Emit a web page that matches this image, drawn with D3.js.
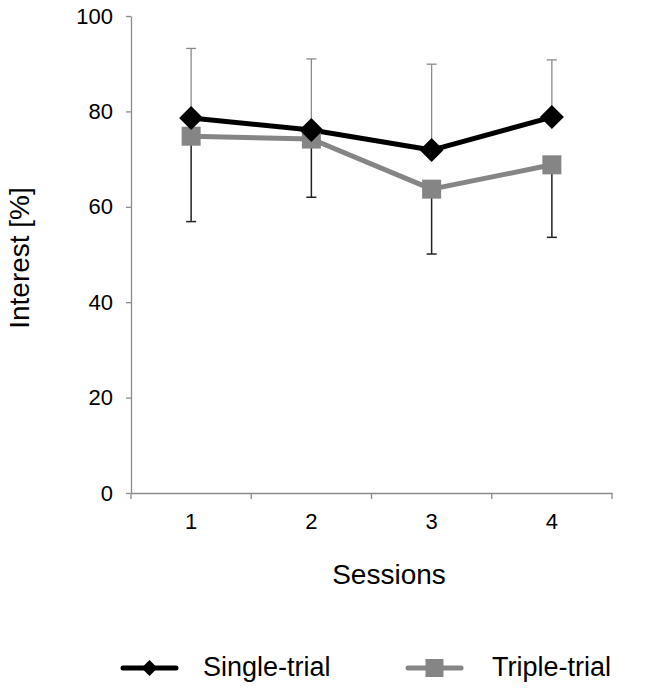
<!DOCTYPE html>
<html><head><meta charset="utf-8">
<script src="https://cdn.jsdelivr.net/npm/d3@7"></script>
<style>body{margin:0;background:#fff}svg{display:block;font-family:"Liberation Sans",Arial,sans-serif}</style>
</head><body>
<script>
const sessions = ["1","2","3","4"];
const singleTrial = [78.6, 76.1, 71.9, 78.8];
const singleUpper = [93.2, 91.0, 89.9, 90.8];
const tripleTrial = [74.8, 74.2, 63.7, 68.8];
const tripleLower = [56.9, 62.0, 50.1, 53.6];
const yTicks = [0, 20, 40, 60, 80, 100];

const W = 653, H = 690;
const FONT = "Liberation Sans, Arial, sans-serif";
const svg = d3.select("body").append("svg").attr("width", W).attr("height", H);
const x = d3.scaleBand().domain(sessions).range([131, 612]);
const y = d3.scaleLinear().domain([0, 100]).range([493, 16]);
const cx = d => x(d) + x.bandwidth() / 2;

// Y axis
const yAxis = svg.append("g").attr("transform", "translate(131,0)")
  .call(d3.axisLeft(y).tickValues(yTicks).tickSize(5).tickSizeOuter(0).tickPadding(13));
yAxis.select(".domain").attr("stroke", "#8c8c8c").attr("stroke-width", 1.3);
yAxis.selectAll(".tick line").attr("stroke", "#8c8c8c").attr("stroke-width", 1.3);
yAxis.selectAll(".tick text").attr("font-size", 22).attr("fill", "#000").attr("font-family", FONT);

// X axis
const xAxis = svg.append("g").attr("transform", "translate(0,493)")
  .call(d3.axisBottom(x).tickSize(0).tickPadding(20));
xAxis.select(".domain").attr("stroke", "#8c8c8c").attr("stroke-width", 1.3);
xAxis.selectAll(".tick text").attr("font-size", 22).attr("fill", "#000").attr("font-family", FONT);
const bounds = sessions.map(s => x(s)).concat([x(sessions[3]) + x.bandwidth()]);
xAxis.selectAll(".bt").data(bounds).enter().append("line")
  .attr("x1", d => d).attr("x2", d => d).attr("y1", 0).attr("y2", 6)
  .attr("stroke", "#8c8c8c").attr("stroke-width", 1.3);

// Axis titles
svg.append("text").attr("transform", "translate(29,258) rotate(-90)")
  .attr("text-anchor", "middle").attr("font-size", 28).text("Interest [%]");
svg.append("text").attr("x", 389).attr("y", 584)
  .attr("text-anchor", "middle").attr("font-size", 28).text("Sessions");

// Error bars
const cap = 5;
sessions.forEach((s, i) => {
  const g = svg.append("g");
  g.append("line").attr("x1", cx(s)).attr("x2", cx(s)).attr("y1", y(singleTrial[i])).attr("y2", y(singleUpper[i]))
    .attr("stroke", "#8a8a8a").attr("stroke-width", 1.3);
  g.append("line").attr("x1", cx(s) - cap).attr("x2", cx(s) + cap).attr("y1", y(singleUpper[i])).attr("y2", y(singleUpper[i]))
    .attr("stroke", "#8a8a8a").attr("stroke-width", 1.3);
  g.append("line").attr("x1", cx(s)).attr("x2", cx(s)).attr("y1", y(tripleTrial[i])).attr("y2", y(tripleLower[i]))
    .attr("stroke", "#222").attr("stroke-width", 1.5);
  g.append("line").attr("x1", cx(s) - cap).attr("x2", cx(s) + cap).attr("y1", y(tripleLower[i])).attr("y2", y(tripleLower[i]))
    .attr("stroke", "#222").attr("stroke-width", 1.5);
});

const line = d3.line().x((d, i) => cx(sessions[i])).y(d => y(d));
svg.append("path").datum(tripleTrial).attr("d", line).attr("fill", "none")
  .attr("stroke", "#858585").attr("stroke-width", 5).attr("stroke-linejoin", "round");
svg.append("path").datum(singleTrial).attr("d", line).attr("fill", "none")
  .attr("stroke", "#000").attr("stroke-width", 5).attr("stroke-linejoin", "round");

// Markers
const sq = 19, dm = 12;
svg.selectAll(".sq").data(tripleTrial).enter().append("rect")
  .attr("x", (d, i) => cx(sessions[i]) - sq / 2).attr("y", d => y(d) - sq / 2)
  .attr("width", sq).attr("height", sq).attr("fill", "#858585");
const diamond = (px, py, r) => `M${px},${py - r}L${px + r},${py}L${px},${py + r}L${px - r},${py}Z`;
svg.selectAll(".dm").data(singleTrial).enter().append("path")
  .attr("d", (d, i) => diamond(cx(sessions[i]), y(d), dm)).attr("fill", "#000");

// Legend
const leg = [
  {name: "Single-trial", color: "#000", x0: 123, tx: 203, type: "d"},
  {name: "Triple-trial", color: "#858585", x0: 408, tx: 492, type: "s"}
];
const ly = 668;
leg.forEach(l => {
  svg.append("line").attr("x1", l.x0).attr("x2", l.x0 + 53).attr("y1", ly).attr("y2", ly)
    .attr("stroke", l.color).attr("stroke-width", 5).attr("stroke-linecap", "round");
  const mx = l.x0 + 26.5;
  if (l.type === "d") svg.append("path").attr("d", diamond(mx, ly, 8)).attr("fill", l.color);
  else svg.append("rect").attr("x", mx - 9).attr("y", ly - 9).attr("width", 18).attr("height", 18).attr("fill", l.color);
  svg.append("text").attr("x", l.tx).attr("y", ly + 8).attr("font-size", 27).text(l.name);
});
</script>
</body></html>
